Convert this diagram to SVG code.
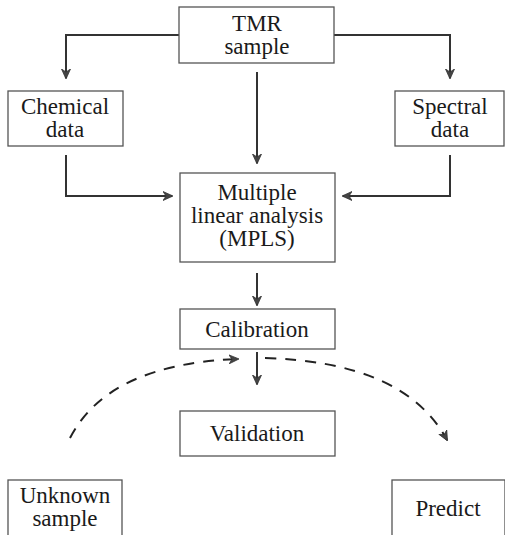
<svg xmlns="http://www.w3.org/2000/svg" width="505" height="535" viewBox="0 0 505 535">
<style>
.box{fill:#fff;stroke:#555;stroke-width:1.3}
.t{font-family:'Liberation Serif','DejaVu Serif',serif;font-size:23px;fill:#1a1a1a;text-anchor:middle}
.c{fill:none;stroke:#333;stroke-width:2}
.d{fill:none;stroke:#222;stroke-width:2;stroke-dasharray:11 9}
</style>
<defs>
<marker id="ah" markerWidth="10" markerHeight="10" refX="9" refY="5" orient="auto" markerUnits="userSpaceOnUse">
<path d="M0,0.5 L10,5 L0,9.5 L3,5 Z" fill="#444" stroke="#333" stroke-width="0.8"/>
</marker>
</defs>
<rect width="505" height="535" fill="#fff"/>
<g id="connectors">
<path class="c" d="M179,35 H66 V78" marker-end="url(#ah)"/>
<path class="c" d="M334,35 H450 V78" marker-end="url(#ah)"/>
<path class="c" d="M257,72 V163" marker-end="url(#ah)"/>
<path class="c" d="M66,155 V196 H172" marker-end="url(#ah)"/>
<path class="c" d="M450,155 V196 H343" marker-end="url(#ah)"/>
<path class="c" d="M257,273 V305" marker-end="url(#ah)"/>
<path class="c" d="M257,352 V384" marker-end="url(#ah)"/>
<path class="d" d="M70,438 Q108,364 238,359" marker-end="url(#ah)"/>
<path class="d" d="M265,358 Q405,362 447,440" marker-end="url(#ah)"/>
</g>
<g id="tmr"><rect class="box" x="179" y="7" width="155" height="56"/><text class="t" font-family="Liberation Serif" x="257" y="31">TMR</text><text class="t" font-family="Liberation Serif" x="257" y="54">sample</text></g>
<g id="chemical"><rect class="box" x="8" y="91" width="115" height="55"/><text class="t" font-family="Liberation Serif" x="65" y="114">Chemical</text><text class="t" font-family="Liberation Serif" x="65" y="137">data</text></g>
<g id="spectral"><rect class="box" x="395" y="91" width="109" height="55"/><text class="t" font-family="Liberation Serif" x="450" y="114">Spectral</text><text class="t" font-family="Liberation Serif" x="450" y="137">data</text></g>
<g id="mpls"><rect class="box" x="180" y="173" width="155" height="89"/><text class="t" font-family="Liberation Serif" x="257" y="200">Multiple</text><text class="t" font-family="Liberation Serif" x="257" y="223">linear analysis</text><text class="t" font-family="Liberation Serif" x="257" y="246">(MPLS)</text></g>
<g id="calibration"><rect class="box" x="180" y="309" width="155" height="40"/><text class="t" font-family="Liberation Serif" x="257" y="337">Calibration</text></g>
<g id="validation"><rect class="box" x="180" y="411" width="155" height="45"/><text class="t" font-family="Liberation Serif" x="257" y="441">Validation</text></g>
<g id="unknown"><rect class="box" x="8" y="480" width="114" height="60"/><text class="t" font-family="Liberation Serif" x="65" y="503">Unknown</text><text class="t" font-family="Liberation Serif" x="65" y="526">sample</text></g>
<g id="predict"><rect class="box" x="392" y="480" width="113" height="60"/><text class="t" font-family="Liberation Serif" x="448" y="516">Predict</text></g>
</svg>
